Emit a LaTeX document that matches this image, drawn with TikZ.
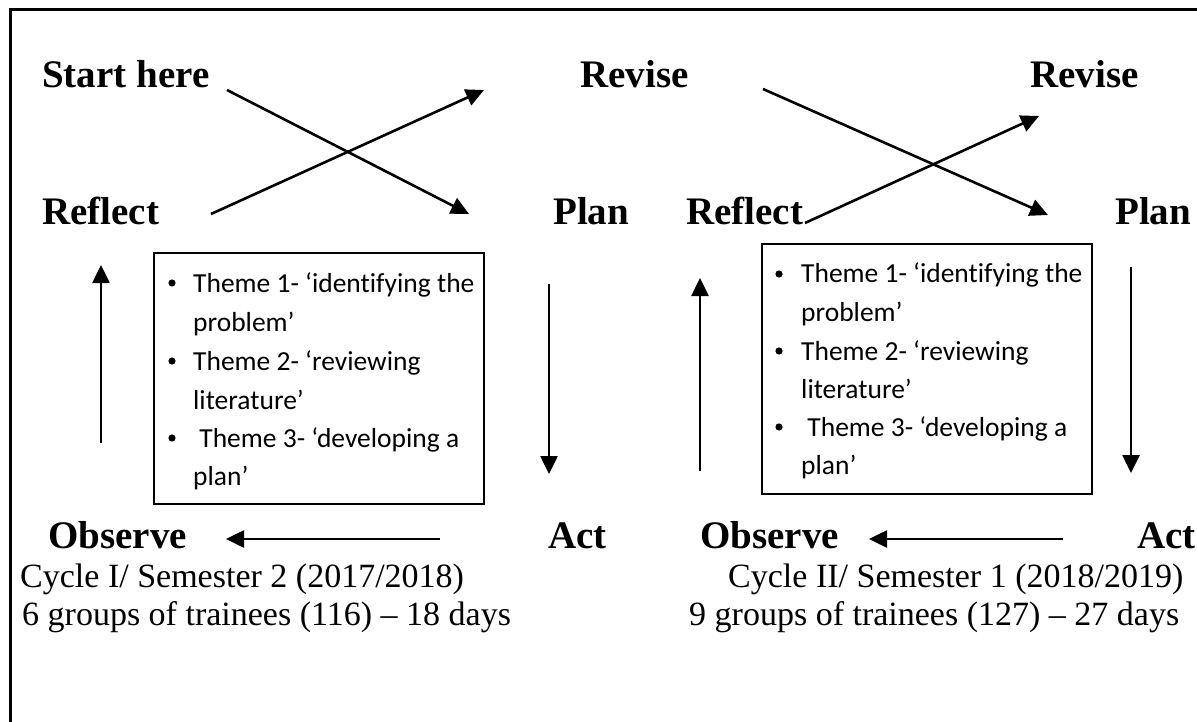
\documentclass[tikz,border=0pt]{standalone}
\usepackage{fontspec}
\setmainfont{Liberation Serif}
\newfontfamily\calfont[RawFeature={-liga}]{Carlito}
\usetikzlibrary{arrows.meta}
\begin{document}
\begin{tikzpicture}[x=1pt,y=-1pt,
  lbl/.style={anchor=base west,inner sep=0pt,font=\fontsize{39}{47}\selectfont\bfseries},
  info/.style={anchor=base west,inner sep=0pt,font=\fontsize{34}{40}\selectfont},
  bul/.style={anchor=base west,inner sep=0pt,font=\calfont\fontsize{27.5}{33}\selectfont},
  arr/.style={line width=2.6pt,-{Triangle[length=18pt,width=17pt]}},
  boxline/.style={draw,line width=2.8pt}]
\useasboundingbox (0,0) rectangle (1197,722);
\fill[white] (0,0) rectangle (1197,722);
% outer frame
\draw[line width=3pt] (10,722) -- (10,10) -- (1197,10);

% cycle I labels
\node[lbl] (start) at (42,88) {Start here};
\node[lbl] (revA) at (580,88) {Revise};
\node[lbl] (refA) at (42,225) {Reflect};
\node[lbl] (planA) at (553,225) {Plan};
\node[lbl] (obsA) at (48,548) {Observe};
\node[lbl] (actA) at (548,548) {Act};
% cycle II labels
\node[lbl] (revB) at (1030,88) {Revise};
\node[lbl] (refB) at (686,225) {Reflect};
\node[lbl] (planB) at (1115,225) {Plan};
\node[lbl] (obsB) at (700,548) {Observe};
\node[lbl] (actB) at (1137,548) {Act};

% info text
\node[info] (cycA) at (20,587) {Cycle I/ Semester 2 (2017/2018)};
\node[info] (grpA) at (22,625) {6 groups of trainees (116) -- 18 days};
\node[info] (cycB) at (728,587) {Cycle II/ Semester 1 (2018/2019)};
\node[info] (grpB) at (689,625) {9 groups of trainees (127) -- 27 days};

% boxes
\draw[boxline] (154,253) rectangle (484,504);
\draw[boxline] (762,244) rectangle (1092,494);

% box A text
\foreach \y/\t/\b in {292/{Theme 1- ‘identifying the}/1, 331/{problem’}/0, 370/{Theme 2- ‘reviewing}/1, 409/{literature’}/0, 447/{\ Theme 3- ‘developing a}/1, 485/{plan’}/0}{
  \node[bul] at (193,\y) {\t};
  \ifnum\b=1 \fill (172,\y-9) circle (3.6pt); \fi
}
% box B text
\foreach \y/\t/\b in {283/{Theme 1- ‘identifying the}/1, 321/{problem’}/0, 360/{Theme 2- ‘reviewing}/1, 398/{literature’}/0, 436/{\ Theme 3- ‘developing a}/1, 474/{plan’}/0}{
  \node[bul] at (801,\y) {\t};
  \ifnum\b=1 \fill (779,\y-9) circle (3.6pt); \fi
}

% arrow end points
\coordinate (s1) at (227,90);   \coordinate (e1) at (469,214);
\coordinate (s2) at (211,214);  \coordinate (e2) at (484,90);
\coordinate (s3) at (763,89);   \coordinate (e3) at (1048,215);
\coordinate (s4) at (805,223);  \coordinate (e4) at (1039,116);
\coordinate (s5) at (101,443);  \coordinate (e5) at (101,265);
\coordinate (s6) at (549,284);  \coordinate (e6) at (549,474);
\coordinate (s7) at (440,539);  \coordinate (e7) at (226,539);
\coordinate (s8) at (700,471);  \coordinate (e8) at (700,278);
\coordinate (s9) at (1131,267); \coordinate (e9) at (1131,473);
\coordinate (s10) at (1063,539); \coordinate (e10) at (869,539);

\draw[arr] (s1) -- (e1);
\draw[arr] (s2) -- (e2);
\draw[arr] (s3) -- (e3);
\draw[arr] (s4) -- (e4);
\draw[arr] (s5) -- (e5);
\draw[arr] (s6) -- (e6);
\draw[arr] (s7) -- (e7);
\draw[arr] (s8) -- (e8);
\draw[arr] (s9) -- (e9);
\draw[arr] (s10) -- (e10);
\end{tikzpicture}
\end{document}
